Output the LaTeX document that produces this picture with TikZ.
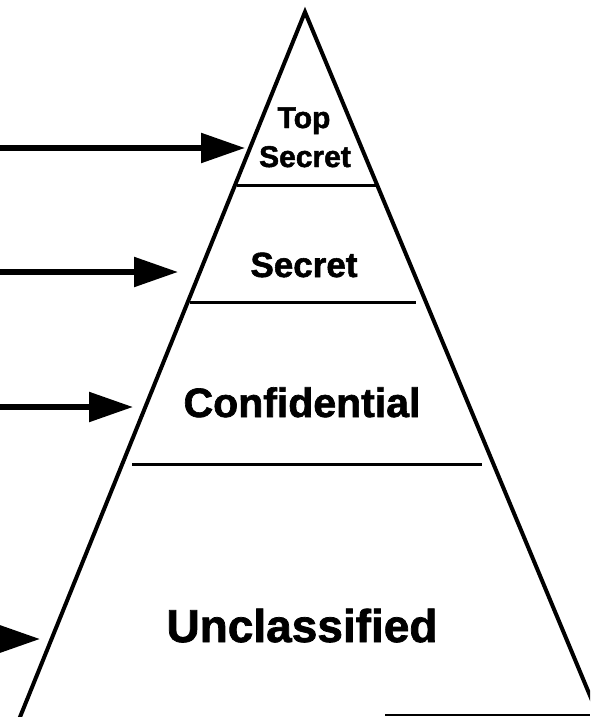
\documentclass[tikz,border=0pt]{standalone}
\usepackage{fontspec}
\setmainfont{Liberation Sans}[BoldFeatures={FakeBold=1.6}]
\usetikzlibrary{arrows.meta}
\begin{document}
\begin{tikzpicture}[x=1pt,y=-1pt,
  side/.style={line width=4pt},
  divider/.style={line width=3pt},
  pointer/.style={line width=5.5pt,-{Triangle[length=44pt,width=29pt]}},
  level/.style={anchor=base,inner sep=0pt,font=\bfseries}]
  \useasboundingbox (0,0) rectangle (590,717);
  \begin{scope}
    \clip (0,0) rectangle (590,717);
    % pyramid outline
    \coordinate (apex) at (305,12);
    \coordinate (bl) at (18,722);
    \coordinate (br) at (601,722);
    \draw[side, line join=miter] (bl) -- (apex) -- (br);
    % broken base line
    \coordinate (b1) at (385,715);
    \coordinate (b2) at (590,715);
    \draw[line width=2pt] (b1) -- (b2);
  \end{scope}
  % tier dividers
  \coordinate (d1l) at (237,185); \coordinate (d1r) at (378,185);
  \coordinate (d2l) at (190,302); \coordinate (d2r) at (416,302);
  \coordinate (d3l) at (132,464); \coordinate (d3r) at (482,464);
  \draw[divider] (d1l) -- (d1r);
  \draw[divider] (d2l) -- (d2r);
  \draw[divider] (d3l) -- (d3r);
  % tier labels
  \node[level,font=\fontsize{30}{30}\bfseries\selectfont] (top) at (304,128) {Top};
  \node[level,font=\fontsize{30}{30}\bfseries\selectfont] (topsec) at (305,167) {Secret};
  \node[level,font=\fontsize{35}{35}\bfseries\selectfont] (sec) at (304,277) {Secret};
  \node[level,font=\fontsize{41}{41}\bfseries\selectfont] (conf) at (302,417) {Confidential};
  \node[level,font=\fontsize{46}{46}\bfseries\selectfont] (uncl) at (302,642) {Unclassified};
  % pointers
  \coordinate (a1s) at (0,148);  \coordinate (a1e) at (245,148);
  \coordinate (a2s) at (0,272);  \coordinate (a2e) at (178,272);
  \coordinate (a3s) at (0,407);  \coordinate (a3e) at (133,407);
  \coordinate (a4s) at (-10,639); \coordinate (a4e) at (40,639);
  \draw[pointer] (a1s) -- (a1e);
  \draw[pointer] (a2s) -- (a2e);
  \draw[pointer] (a3s) -- (a3e);
  \draw[pointer] (a4s) -- (a4e);
\end{tikzpicture}
\end{document}
